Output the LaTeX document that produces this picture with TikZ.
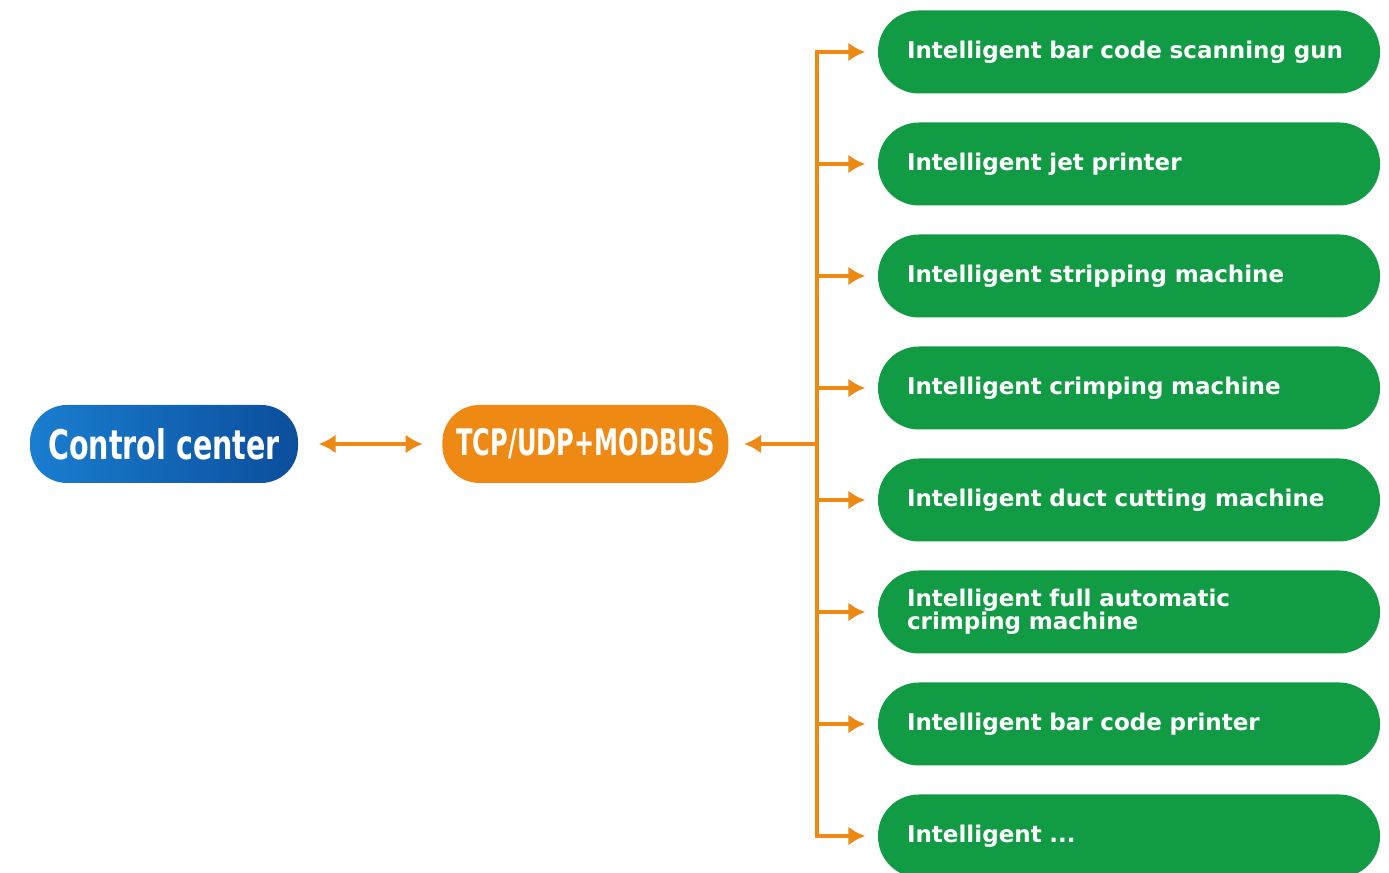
\documentclass[tikz,border=0pt]{standalone}
\usepackage{fontspec}
\usetikzlibrary{positioning,arrows.meta,calc}
\newfontfamily\devfont{DejaVu Sans}
\newfontfamily\narrowfont{DejaVu Sans}[FakeStretch=0.70]
\newfontfamily\protofont{DejaVu Sans}[FakeStretch=0.66]
\definecolor{linkorange}{HTML}{EE8A14}
\definecolor{ctrlblueL}{HTML}{1A7ED0}
\definecolor{ctrlblueD}{HTML}{0B4E9C}
\definecolor{devgreen}{HTML}{129B45}
\tikzset{
  ctrlnode/.style={
    rectangle, rounded corners=0.37cm,
    minimum width=2.68cm, minimum height=0.78cm,
    inner sep=0pt,
    left color=ctrlblueL, right color=ctrlblueD,
    text=white,
    font=\narrowfont\bfseries\fontsize{11.6}{12}\selectfont
  }
}
\tikzset{
  protonode/.style={
    rectangle, rounded corners=0.37cm,
    minimum width=2.86cm, minimum height=0.78cm,
    inner sep=0pt,
    fill=linkorange,
    text=white,
    font=\protofont\bfseries\fontsize{10.4}{11}\selectfont
  }
}
\def\devsep{1.12}
\tikzset{
  devnode/.style={
    rectangle, rounded corners=0.41cm,
    text width=4.44cm, align=left,
    inner xsep=0.29cm, inner ysep=0pt,
    minimum height=0.83cm,
    fill=devgreen,
    text=white,
    font=\devfont\bfseries\fontsize{6.55}{6.4}\selectfont
  },
  link/.style={linkorange, line width=1pt},
}

\begin{document}
\begin{tikzpicture}[>={Latex[length=1.7mm,width=1.9mm]}]
    \useasboundingbox (0,0) rectangle (13.89,8.73);

    %% Left side
    \node[ctrlnode] (ctrl) at (1.64, 4.29) {Control center};
    \node[protonode, right=1.43cm of ctrl] (proto) {TCP/UDP+MODBUS};
    \coordinate[right=0.88cm of proto] (jn);

    %% Devices
    \foreach \i/\txt in {1/{Intelligent bar code scanning gun},
                         2/{Intelligent jet printer},
                         3/{Intelligent stripping machine},
                         4/{Intelligent crimping machine},
                         5/{Intelligent duct cutting machine},
                         6/{Intelligent full automatic\\crimping machine},
                         7/{Intelligent bar code printer},
                         8/{Intelligent ...}}
      \node[devnode] (d\i) at (11.29, {8.21-(\i-1)*\devsep}) {\txt};

    %% Edges
    \draw[link, <->, shorten <=0.2cm, shorten >=0.19cm] (ctrl) -- (proto);
    \draw[link, ->, shorten >=0.15cm] (jn) -- (proto);
    \foreach \i in {1,...,8}
      \draw[link, ->, shorten >=0.12cm] (jn) |- (d\i.west);

\end{tikzpicture}
\end{document}
